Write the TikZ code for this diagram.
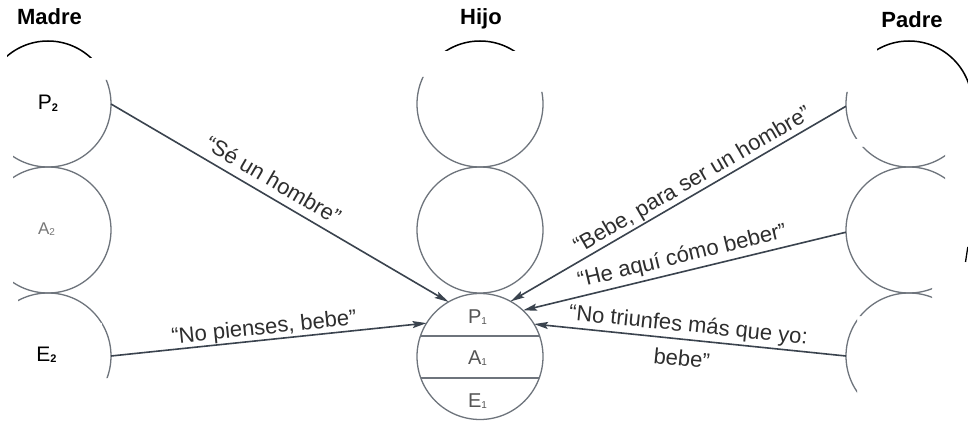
\documentclass[tikz,border=0pt]{standalone}
\usepackage{fontspec}
\setmainfont{Liberation Sans}
\usetikzlibrary{arrows.meta}
\definecolor{ringgray}{HTML}{6E747C}
\definecolor{arrowc}{HTML}{3A434E}
\definecolor{labc}{HTML}{2E2E2E}
\definecolor{subgray}{HTML}{555555}
\definecolor{softgray}{HTML}{777777}
% letter with a lowered index
\newcommand\idx[3]{#1\raisebox{-1.5pt}{\fontsize{#2}{#2}\selectfont #3}}
\begin{document}
\begin{tikzpicture}[x=1pt,y=-1pt,
  ring/.style={circle, draw=ringgray, line width=1.3pt, minimum size=126pt, inner sep=0pt, outer sep=0pt},
  divider/.style={draw=ringgray, line width=1.3pt},
  headarc/.style={draw=black, line width=1.5pt},
  msg/.style={-{Stealth[length=14pt,width=7pt,inset=2.5pt]}, draw=arrowc, line width=1.6pt},
  gsm/.style={{Stealth[length=14pt,width=7pt,inset=2.5pt]}-, draw=arrowc, line width=1.6pt},
  quote/.style={font=\fontsize{22}{26}\selectfont, text=labc, inner sep=0pt, text depth=0pt, sloped},
  quotelow/.style={font=\fontsize{22}{26}\selectfont, text=labc, inner sep=0pt, sloped},
  title/.style={font=\fontsize{22}{26}\selectfont\bfseries, anchor=base, inner sep=0pt},
  egoA/.style={font=\fontsize{21}{21}\selectfont, anchor=base, inner sep=0pt},
  egoB/.style={font=\fontsize{17}{17}\selectfont, text=softgray, anchor=base, inner sep=0pt},
  egoC/.style={font=\fontsize{20}{20}\selectfont, text=subgray, anchor=base, inner sep=0pt}
]
\useasboundingbox[fill=white] (0,0) rectangle (968,422);

% ---- Madre: ego states (left column)
\begin{scope}
  \clip (13,80) rectangle (125,290) (18,290) rectangle (102,323) (102,290) rectangle (125,378);
  \node[ring] (m1) at (48,104) {};
  \node[ring] (m2) at (48,230) {};
  \node[ring] (m3) at (48,356) {};
\end{scope}
\begin{scope}
  \clip (7,0) rectangle (100,58);
  \draw[headarc] (m1.center) circle[radius=63];
\end{scope}

% ---- Hijo: ego states (middle column)
\begin{scope}
  \clip (400,77) rectangle (480,430) (480,92) rectangle (560,430);
  \node[ring] (h1) at (480,104) {};
  \node[ring] (h2) at (480,230) {};
  \node[ring] (h3) at (480,356.5) {};
\end{scope}
% dividers of the lower circle into P, A, E
\begin{scope}
  \clip (h3.center) circle[radius=63];
  \draw[divider] (400,336) -- (560,336);
  \draw[divider] (400,378) -- (560,378);
\end{scope}
\begin{scope}
  \clip (440,0) rectangle (520,51);
  \draw[headarc] (h1.center) circle[radius=63];
\end{scope}

% ---- Padre: ego states (right column)
\begin{scope}
  \clip (835,92) rectangle (860,139) (860,147) rectangle (945,235)
        (835,150) rectangle (860,235) (835,235) rectangle (932,316)
        (835,316) rectangle (857,400);
  \node[ring] (p1) at (909,104) {};
  \node[ring] (p2) at (909,230) {};
  \node[ring] (p3) at (909,356) {};
\end{scope}
\begin{scope}
  \clip (877,0) rectangle (968,86);
  \draw[headarc] (p1.center) circle[radius=63];
\end{scope}
\draw[line width=1.3pt] (965.5,262) -- (967.8,247);

% ---- titles
\node[title] (tm) at (49.5,25) {Madre};
\node[title] (th) at (481,25) {Hijo};
\node[title] (tp) at (912,28) {Padre};

% ---- ego state labels
\node[egoA] (lp2) at (48,110) {\idx{P}{11}{\bfseries 2}};
\node[egoB] (la2) at (46.5,234) {\idx{A}{10}{2}};
\node[egoA] (le2) at (46.5,361) {\idx{E}{11}{\bfseries 2}};
\node[egoC] (lp1) at (477.5,323) {\idx{P}{10}{1}};
\node[egoC] (la1) at (477.5,364) {\idx{A}{10}{1}};
\node[egoC] (le1) at (477.5,407) {\idx{E}{10}{1}};

% ---- messages
\draw[msg] (m1.east) -- node[quote, pos=0.456, above=8pt] {“Sé un hombre”} (h3.120);
\draw[msg] (m3.east) -- node[quote, pos=0.489, above=5pt] {“No pienses, bebe”} (h3.148);
\draw[gsm] (h3.61) -- node[quote, pos=0.562, above=6pt] {“Bebe, para ser un hombre”} (p1.182);
\draw[gsm] (h3.47) -- node[quote, pos=0.504, above=8pt] {“He aquí cómo beber”} (p2.182);
\draw[gsm] (h3.31) -- node[quote, pos=0.49, above=7pt] {“No triunfes más que yo:}
                      node[quotelow, pos=0.48, below=10pt] {bebe”} (p3.west);
\end{tikzpicture}
\end{document}
